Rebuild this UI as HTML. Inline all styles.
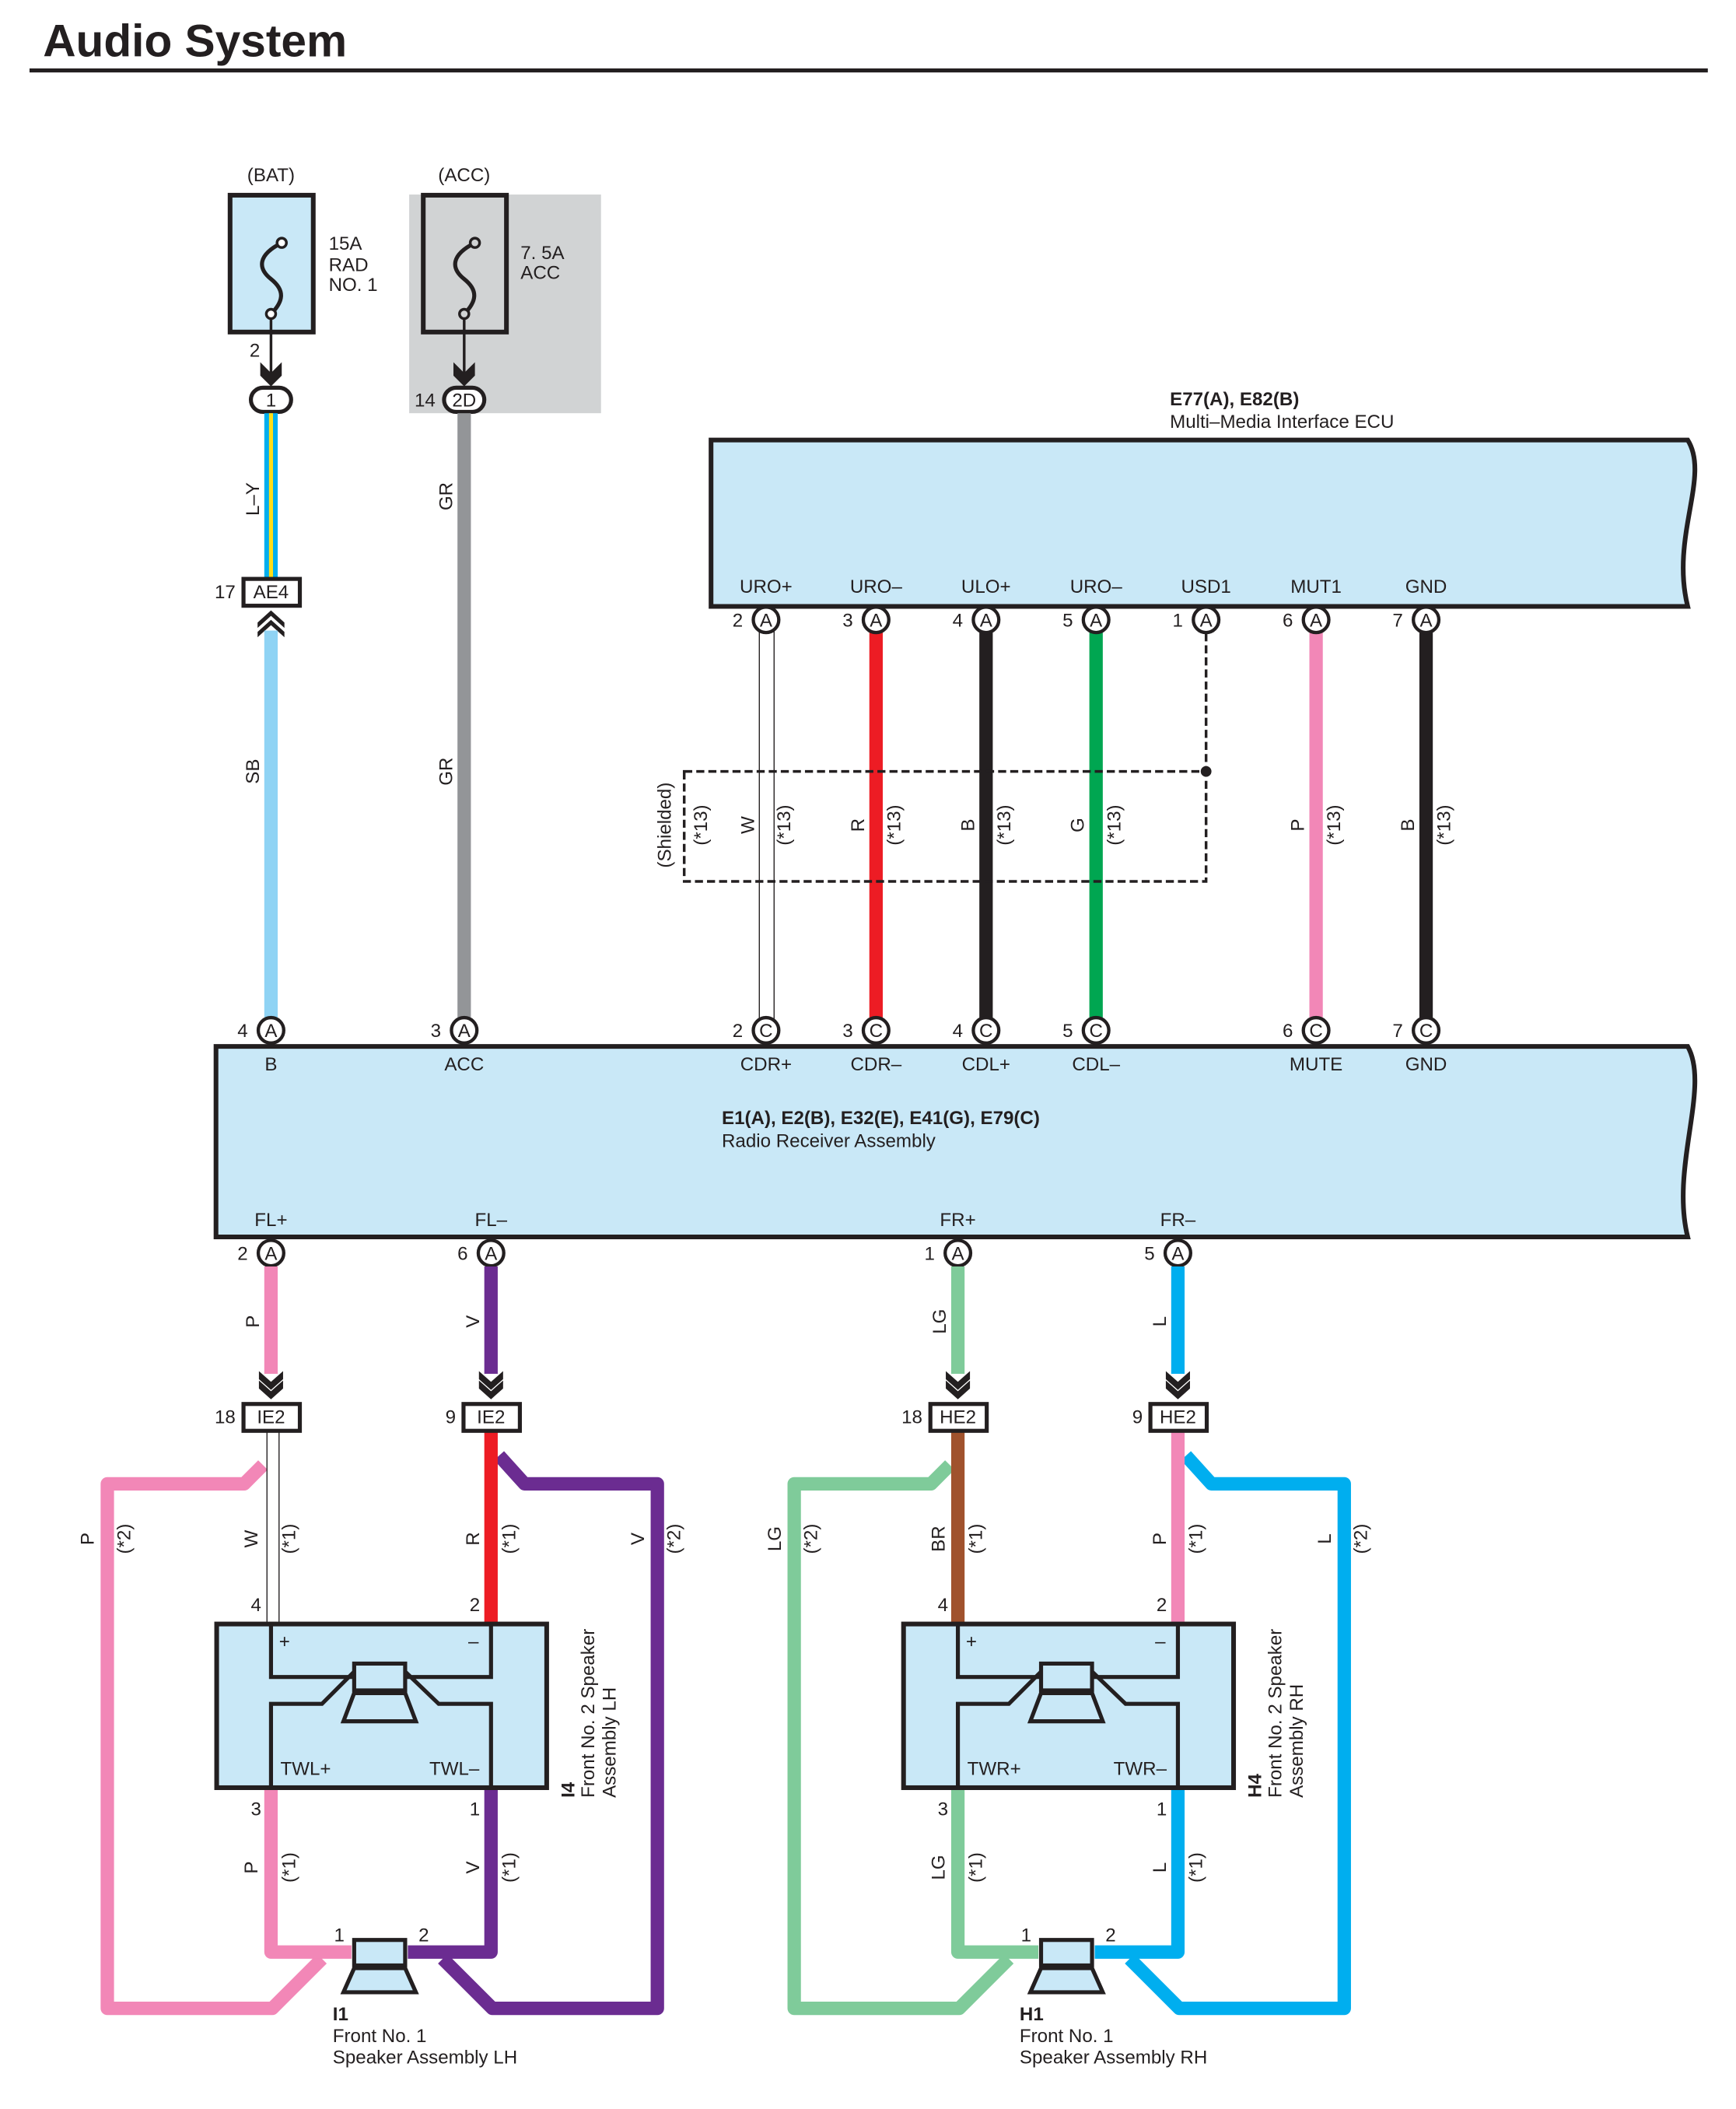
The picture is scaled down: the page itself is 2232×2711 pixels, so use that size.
<!DOCTYPE html>
<html><head><meta charset="utf-8"><style>
html,body{margin:0;padding:0;background:#fff}
svg{display:block}
text{font-family:"Liberation Sans",sans-serif;font-size:14px;fill:#231f20}
.b{font-weight:bold}
</style></head><body>
<svg width="2232" height="2711" viewBox="0 0 1294 1572" preserveAspectRatio="none" xmlns="http://www.w3.org/2000/svg">
<defs>
<g id="chevD"><path d="M-9,-12 L0,-4 L9,-12 L9,-6 L0,2 L-9,-6Z M-9,-5 L0,3 L9,-5 L9,1 L0,9 L-9,1Z" fill="#231f20"/></g>
</defs>
<text x="32" y="42" class="b" style="font-size:34px">Audio System</text>
<rect x="22" y="51" width="1251" height="3" fill="#231f20"/>

<!-- Fuses -->
<rect x="305" y="145" width="143" height="163" fill="#d1d3d4"/>
<text x="202" y="135" text-anchor="middle">(BAT)</text>
<text x="346" y="135" text-anchor="middle">(ACC)</text>
<rect x="171.5" y="145.5" width="62" height="102" fill="#c9e8f7" stroke="#231f20" stroke-width="3.5"/>
<rect x="315.5" y="145.5" width="62" height="102" fill="#d1d3d4" stroke="#231f20" stroke-width="3.5"/>
<g fill="none" stroke="#231f20" stroke-width="3">
<path d="M210,181 C192,190 192,200 202,208 C212,216 212,224 202,234"/>
<path d="M354,181 C336,190 336,200 346,208 C356,216 356,224 346,234"/>
<circle cx="210" cy="181" r="3.5" fill="#fff" stroke-width="2"/>
<circle cx="202" cy="234" r="3.5" fill="#fff" stroke-width="2"/>
<circle cx="354" cy="181" r="3.5" fill="#d1d3d4" stroke-width="2"/>
<circle cx="346" cy="234" r="3.5" fill="#d1d3d4" stroke-width="2"/>
<line x1="202" y1="237" x2="202" y2="280" stroke-width="2"/>
<line x1="346" y1="237" x2="346" y2="280" stroke-width="2"/>
</g>
<path d="M194,270 L202,278 L210,270 L210,280 L202,288 L194,280Z" fill="#231f20"/>
<path d="M338,270 L346,278 L354,270 L354,280 L346,288 L338,280Z" fill="#231f20"/>
<text x="245" y="186">15A</text><text x="245" y="202">RAD</text><text x="245" y="217">NO. 1</text>
<text x="388" y="193">7. 5A</text><text x="388" y="208">ACC</text>
<text x="186" y="266">2</text>
<rect x="187" y="289" width="30" height="18" rx="9" fill="#fff" stroke="#231f20" stroke-width="3"/>
<text x="202" y="303" text-anchor="middle">1</text>
<rect x="331" y="289" width="30" height="18" rx="9" fill="#fff" stroke="#231f20" stroke-width="3"/>
<text x="346" y="303" text-anchor="middle">2D</text>
<text x="309" y="303">14</text>

<!-- L-Y -->
<rect x="197" y="308" width="10" height="123" fill="#00aeef"/>
<rect x="200.5" y="308" width="3" height="123" fill="#ffde17"/>
<text transform="translate(193,372) rotate(-90)" text-anchor="middle">L–Y</text>
<rect x="181.5" y="431.5" width="42" height="20" fill="#fff" stroke="#231f20" stroke-width="3"/>
<text x="202" y="446" text-anchor="middle">AE4</text>
<text x="160" y="446">17</text>
<path d="M192,464 L202,455 L212,464 L212,468 L202,459 L192,468Z M192,471 L202,462 L212,471 L212,475 L202,466 L192,475Z" fill="#231f20"/>
<rect x="197" y="470" width="10" height="290" fill="#8fd3f4"/>
<text transform="translate(193,575) rotate(-90)" text-anchor="middle">SB</text>
<rect x="341" y="308" width="10" height="452" fill="#939598"/>
<text transform="translate(337,370) rotate(-90)" text-anchor="middle">GR</text>
<text transform="translate(337,575) rotate(-90)" text-anchor="middle">GR</text>

<!-- ECU -->
<text x="872" y="302" class="b">E77(A), E82(B)</text>
<text x="872" y="319">Multi–Media Interface ECU</text>
<path d="M530,328 L1258,328 C1275,355 1245,400 1258,452 L530,452Z" fill="#c9e8f7" stroke="#231f20" stroke-width="3.5"/>

<!-- ECU wires -->
<line x1="566" y1="470" x2="566" y2="760" stroke="#231f20" stroke-width="0.8"/>
<line x1="577" y1="470" x2="577" y2="760" stroke="#231f20" stroke-width="0.8"/>
<rect x="648" y="470" width="10" height="290" fill="#ed1c24"/>
<rect x="730" y="470" width="10" height="290" fill="#231f20"/>
<rect x="812" y="470" width="10" height="290" fill="#00a651"/>
<rect x="976" y="470" width="10" height="290" fill="#f287b7"/>
<rect x="1058" y="470" width="10" height="290" fill="#231f20"/>
<g fill="none" stroke="#231f20" stroke-width="2" stroke-dasharray="6,3">
<line x1="899" y1="472" x2="899" y2="575"/>
<rect x="510" y="575" width="389" height="82"/>
</g>
<circle cx="899" cy="575" r="4" fill="#231f20"/>
<g text-anchor="middle">
<text transform="translate(500,615) rotate(-90)">(Shielded)</text>
<text transform="translate(527,615) rotate(-90)">(*13)</text>
<text transform="translate(562,615) rotate(-90)">W</text>
<text transform="translate(589,615) rotate(-90)">(*13)</text>
<text transform="translate(644,615) rotate(-90)">R</text>
<text transform="translate(671,615) rotate(-90)">(*13)</text>
<text transform="translate(726,615) rotate(-90)">B</text>
<text transform="translate(753,615) rotate(-90)">(*13)</text>
<text transform="translate(808,615) rotate(-90)">G</text>
<text transform="translate(835,615) rotate(-90)">(*13)</text>
<text transform="translate(972,615) rotate(-90)">P</text>
<text transform="translate(999,615) rotate(-90)">(*13)</text>
<text transform="translate(1054,615) rotate(-90)">B</text>
<text transform="translate(1081,615) rotate(-90)">(*13)</text>
<text x="571" y="442">URO+</text><text x="653" y="442">URO–</text><text x="735" y="442">ULO+</text>
<text x="817" y="442">URO–</text><text x="899" y="442">USD1</text><text x="981" y="442">MUT1</text><text x="1063" y="442">GND</text>
</g>
<g stroke="#231f20" stroke-width="2.5" fill="#fff">
<circle cx="571" cy="462" r="9.5"/><circle cx="653" cy="462" r="9.5"/><circle cx="735" cy="462" r="9.5"/>
<circle cx="817" cy="462" r="9.5"/><circle cx="899" cy="462" r="9.5"/><circle cx="981" cy="462" r="9.5"/><circle cx="1063" cy="462" r="9.5"/>
</g>
<g text-anchor="middle" style="font-size:12px">
<text x="571" y="467">A</text><text x="653" y="467">A</text><text x="735" y="467">A</text><text x="817" y="467">A</text>
<text x="899" y="467">A</text><text x="981" y="467">A</text><text x="1063" y="467">A</text>
</g>
<text x="546" y="467">2</text><text x="628" y="467">3</text><text x="710" y="467">4</text><text x="792" y="467">5</text>
<text x="874" y="467">1</text><text x="956" y="467">6</text><text x="1038" y="467">7</text>

<!-- Radio -->
<path d="M161,780 L1258,780 C1275,810 1245,870 1258,922 L161,922Z" fill="#c9e8f7" stroke="#231f20" stroke-width="3.5"/>
<text x="538" y="838" class="b">E1(A), E2(B), E32(E), E41(G), E79(C)</text>
<text x="538" y="855">Radio Receiver Assembly</text>
<g text-anchor="middle">
<text x="202" y="798">B</text><text x="346" y="798">ACC</text><text x="571" y="798">CDR+</text><text x="653" y="798">CDR–</text>
<text x="735" y="798">CDL+</text><text x="817" y="798">CDL–</text><text x="981" y="798">MUTE</text><text x="1063" y="798">GND</text>
<text x="202" y="914">FL+</text><text x="366" y="914">FL–</text><text x="714" y="914">FR+</text><text x="878" y="914">FR–</text>
</g>
<g stroke="#231f20" stroke-width="2.5" fill="#fff">
<circle cx="202" cy="768" r="9.5"/><circle cx="346" cy="768" r="9.5"/><circle cx="571" cy="768" r="9.5"/><circle cx="653" cy="768" r="9.5"/>
<circle cx="735" cy="768" r="9.5"/><circle cx="817" cy="768" r="9.5"/><circle cx="981" cy="768" r="9.5"/><circle cx="1063" cy="768" r="9.5"/>
<circle cx="202" cy="934" r="9.5"/><circle cx="366" cy="934" r="9.5"/><circle cx="714" cy="934" r="9.5"/><circle cx="878" cy="934" r="9.5"/>
</g>
<g text-anchor="middle" style="font-size:12px">
<text x="202" y="773">A</text><text x="346" y="773">A</text><text x="571" y="773">C</text><text x="653" y="773">C</text>
<text x="735" y="773">C</text><text x="817" y="773">C</text><text x="981" y="773">C</text><text x="1063" y="773">C</text>
<text x="202" y="939">A</text><text x="366" y="939">A</text><text x="714" y="939">A</text><text x="878" y="939">A</text>
</g>
<text x="177" y="773">4</text><text x="321" y="773">3</text><text x="546" y="773">2</text><text x="628" y="773">3</text>
<text x="710" y="773">4</text><text x="792" y="773">5</text><text x="956" y="773">6</text><text x="1038" y="773">7</text>
<text x="177" y="939">2</text><text x="341" y="939">6</text><text x="689" y="939">1</text><text x="853" y="939">5</text>

<!-- Down wires -->
<rect x="197" y="944" width="10" height="80" fill="#f287b7"/>
<rect x="361" y="944" width="10" height="80" fill="#6b2c91"/>
<rect x="709" y="944" width="10" height="80" fill="#7fcb9a"/>
<rect x="873" y="944" width="10" height="80" fill="#00aeef"/>
<g text-anchor="middle">
<text transform="translate(193,985) rotate(-90)">P</text>
<text transform="translate(357,985) rotate(-90)">V</text>
<text transform="translate(705,985) rotate(-90)">LG</text>
<text transform="translate(869,985) rotate(-90)">L</text>
</g>
<use href="#chevD" x="202" y="1034"/><use href="#chevD" x="366" y="1034"/>
<use href="#chevD" x="714" y="1034"/><use href="#chevD" x="878" y="1034"/>

<!-- LH side -->
<g>
<path d="M196,1092 L182,1106 L80,1106 L80,1497 L203,1497 L240,1460" fill="none" stroke="#f287b7" stroke-width="10" stroke-linejoin="round"/>
<path d="M372,1085 L391,1106 L490,1106 L490,1497 L367,1497 L330,1460" fill="none" stroke="#6b2c91" stroke-width="10" stroke-linejoin="round"/>
<line x1="199" y1="1066" x2="199" y2="1210" stroke="#231f20" stroke-width="0.8"/>
<line x1="208" y1="1066" x2="208" y2="1210" stroke="#231f20" stroke-width="0.8"/>
<rect x="361" y="1066" width="10" height="144" fill="#ed1c24"/>
<path d="M202,1332 L202,1455 L262,1455" fill="none" stroke="#f287b7" stroke-width="10" stroke-linejoin="round"/>
<path d="M366,1332 L366,1455 L304,1455" fill="none" stroke="#6b2c91" stroke-width="10" stroke-linejoin="round"/>
<rect x="181.5" y="1046.5" width="42" height="20" fill="#fff" stroke="#231f20" stroke-width="3"/>
<text x="202" y="1061" text-anchor="middle">IE2</text><text x="160" y="1061">18</text>
<rect x="345.5" y="1046.5" width="42" height="20" fill="#fff" stroke="#231f20" stroke-width="3"/>
<text x="366" y="1061" text-anchor="middle">IE2</text><text x="332" y="1061">9</text>
<rect x="161.5" y="1210.5" width="246" height="122" fill="#c9e8f7" stroke="#231f20" stroke-width="3.5"/>
<g fill="none" stroke="#231f20" stroke-width="3">
<path d="M202,1212 L202,1250 L264,1250"/><path d="M302,1250 L366,1250 L366,1212"/>
<path d="M202,1331 L202,1270 L240,1270 L264,1246"/><path d="M366,1331 L366,1270 L327,1270 L302,1246"/>
<rect x="264" y="1240" width="38" height="20" fill="#c9e8f7"/>
<path d="M264,1262 L302,1262 L310,1283 L256,1283Z" fill="#c9e8f7"/>
<rect x="264" y="1446" width="38" height="19" fill="#c9e8f7"/>
<path d="M264,1467 L302,1467 L310,1485 L256,1485Z" fill="#c9e8f7"/>
</g>
<text x="208" y="1228">+</text><text x="349" y="1228">–</text>
<text x="209" y="1323">TWL+</text><text x="320" y="1323">TWL–</text>
<text x="187" y="1201">4</text><text x="350" y="1201">2</text>
<text x="187" y="1353">3</text><text x="350" y="1353">1</text>
<text x="249" y="1447">1</text><text x="312" y="1447">2</text>
<text x="248" y="1506" class="b">I1</text>
<text x="248" y="1522">Front No. 1</text><text x="248" y="1538">Speaker Assembly LH</text>
<text transform="translate(428,1340) rotate(-90)" class="b">I4</text>
<text transform="translate(443,1340) rotate(-90)">Front No. 2 Speaker</text>
<text transform="translate(459,1340) rotate(-90)">Assembly LH</text>
<g text-anchor="middle">
<text transform="translate(70,1147) rotate(-90)">P</text><text transform="translate(97,1147) rotate(-90)">(*2)</text>
<text transform="translate(192,1147) rotate(-90)">W</text><text transform="translate(220,1147) rotate(-90)">(*1)</text>
<text transform="translate(357,1147) rotate(-90)">R</text><text transform="translate(384,1147) rotate(-90)">(*1)</text>
<text transform="translate(480,1147) rotate(-90)">V</text><text transform="translate(507,1147) rotate(-90)">(*2)</text>
<text transform="translate(192,1392) rotate(-90)">P</text><text transform="translate(220,1392) rotate(-90)">(*1)</text>
<text transform="translate(357,1392) rotate(-90)">V</text><text transform="translate(384,1392) rotate(-90)">(*1)</text>
</g>
</g>

<!-- RH side -->
<g transform="translate(512,0)">
<path d="M196,1092 L182,1106 L80,1106 L80,1497 L203,1497 L240,1460" fill="none" stroke="#7fcb9a" stroke-width="10" stroke-linejoin="round"/>
<path d="M372,1085 L391,1106 L490,1106 L490,1497 L367,1497 L330,1460" fill="none" stroke="#00aeef" stroke-width="10" stroke-linejoin="round"/>
<rect x="197" y="1066" width="10" height="144" fill="#a0522d"/>
<rect x="361" y="1066" width="10" height="144" fill="#f287b7"/>
<path d="M202,1332 L202,1455 L262,1455" fill="none" stroke="#7fcb9a" stroke-width="10" stroke-linejoin="round"/>
<path d="M366,1332 L366,1455 L304,1455" fill="none" stroke="#00aeef" stroke-width="10" stroke-linejoin="round"/>
<rect x="181.5" y="1046.5" width="42" height="20" fill="#fff" stroke="#231f20" stroke-width="3"/>
<text x="202" y="1061" text-anchor="middle">HE2</text><text x="160" y="1061">18</text>
<rect x="345.5" y="1046.5" width="42" height="20" fill="#fff" stroke="#231f20" stroke-width="3"/>
<text x="366" y="1061" text-anchor="middle">HE2</text><text x="332" y="1061">9</text>
<rect x="161.5" y="1210.5" width="246" height="122" fill="#c9e8f7" stroke="#231f20" stroke-width="3.5"/>
<g fill="none" stroke="#231f20" stroke-width="3">
<path d="M202,1212 L202,1250 L264,1250"/><path d="M302,1250 L366,1250 L366,1212"/>
<path d="M202,1331 L202,1270 L240,1270 L264,1246"/><path d="M366,1331 L366,1270 L327,1270 L302,1246"/>
<rect x="264" y="1240" width="38" height="20" fill="#c9e8f7"/>
<path d="M264,1262 L302,1262 L310,1283 L256,1283Z" fill="#c9e8f7"/>
<rect x="264" y="1446" width="38" height="19" fill="#c9e8f7"/>
<path d="M264,1467 L302,1467 L310,1485 L256,1485Z" fill="#c9e8f7"/>
</g>
<text x="208" y="1228">+</text><text x="349" y="1228">–</text>
<text x="209" y="1323">TWR+</text><text x="318" y="1323">TWR–</text>
<text x="187" y="1201">4</text><text x="350" y="1201">2</text>
<text x="187" y="1353">3</text><text x="350" y="1353">1</text>
<text x="249" y="1447">1</text><text x="312" y="1447">2</text>
<text x="248" y="1506" class="b">H1</text>
<text x="248" y="1522">Front No. 1</text><text x="248" y="1538">Speaker Assembly RH</text>
<text transform="translate(428,1340) rotate(-90)" class="b">H4</text>
<text transform="translate(443,1340) rotate(-90)">Front No. 2 Speaker</text>
<text transform="translate(459,1340) rotate(-90)">Assembly RH</text>
<g text-anchor="middle">
<text transform="translate(70,1147) rotate(-90)">LG</text><text transform="translate(97,1147) rotate(-90)">(*2)</text>
<text transform="translate(192,1147) rotate(-90)">BR</text><text transform="translate(220,1147) rotate(-90)">(*1)</text>
<text transform="translate(357,1147) rotate(-90)">P</text><text transform="translate(384,1147) rotate(-90)">(*1)</text>
<text transform="translate(480,1147) rotate(-90)">L</text><text transform="translate(507,1147) rotate(-90)">(*2)</text>
<text transform="translate(192,1392) rotate(-90)">LG</text><text transform="translate(220,1392) rotate(-90)">(*1)</text>
<text transform="translate(357,1392) rotate(-90)">L</text><text transform="translate(384,1392) rotate(-90)">(*1)</text>
</g>
</g>
</svg>
</body></html>
